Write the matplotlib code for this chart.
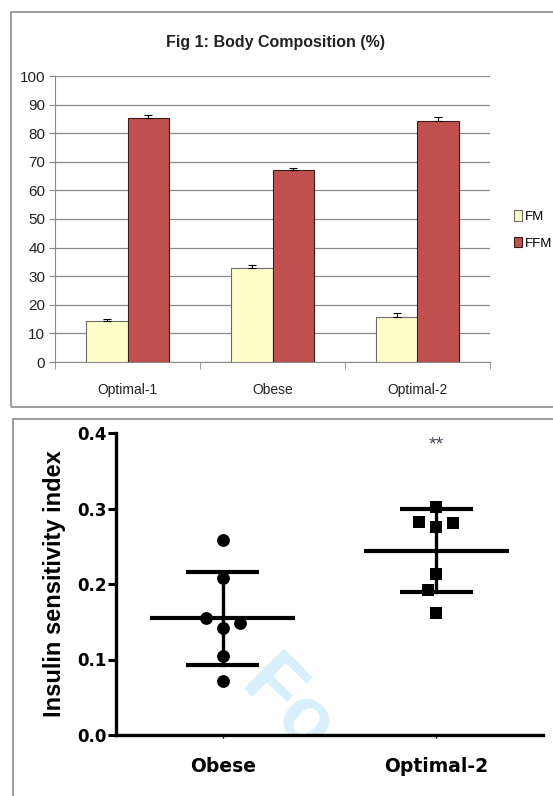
import matplotlib
matplotlib.use("Agg")
import matplotlib.pyplot as plt
import numpy as np
from matplotlib.patches import Rectangle

# ---- Fig 1: body composition ----
groups = ["Optimal-1", "Obese", "Optimal-2"]
fm = [14.4, 32.9, 15.8]
ffm = [85.4, 67.1, 84.3]
fm_err = [0.6, 0.9, 1.2]
ffm_err = [0.9, 0.6, 1.2]

# ---- insulin sensitivity ----
isi_groups = ["Obese", "Optimal-2"]
obese_isi = [0.258, 0.2075, 0.142, 0.1545, 0.148, 0.1046, 0.072]
opt2_isi = [0.302, 0.275, 0.2826, 0.281, 0.213, 0.192, 0.162]
isi_mean = [0.1545, 0.244]
isi_sd = [0.062, 0.055]
sig_label = "**"

sans = ["Liberation Sans", "DejaVu Sans"]

fig = plt.figure(figsize=(5.53, 7.96), dpi=100)

# panel frames
fig.patches.append(Rectangle((11/553, 1 - 407/796), 1.0, 395/796, transform=fig.transFigure,
                             fill=False, edgecolor="#8c8c8c", linewidth=1.2))
fig.patches.append(Rectangle((13/553, -0.02), 1.0, 1 - 419/796 + 0.02, transform=fig.transFigure,
                             fill=False, edgecolor="#8c8c8c", linewidth=1.2))

# ================= top chart =================
ax = fig.add_axes([55/553, 1 - 362/796, 435/553, 286/796])
x = np.arange(len(groups))
w = 0.286
ax.bar(x - w/2, fm, w, color="#ffffcc", edgecolor="#6b6b6b", linewidth=0.8, label="FM", zorder=3,
       yerr=[np.zeros(3), fm_err], error_kw=dict(ecolor="black", elinewidth=0.8, capsize=3, capthick=0.8))
ax.bar(x + w/2, ffm, w, color="#c0504d", edgecolor="#3a1a1a", linewidth=0.8, label="FFM", zorder=3,
       yerr=[np.zeros(3), ffm_err], error_kw=dict(ecolor="black", elinewidth=0.8, capsize=3, capthick=0.8))
ax.set_xlim(-0.5, 2.5)
ax.set_ylim(0, 100)
ax.set_yticks(np.arange(0, 101, 10))
ax.yaxis.grid(True, color="#8a8a8a", linewidth=0.9, zorder=0)
ax.set_axisbelow(True)
for s in ["top", "right"]:
    ax.spines[s].set_visible(False)
ax.spines["left"].set_color("#8a8a8a")
ax.spines["bottom"].set_color("#8a8a8a")
ax.set_xticks(x)
ax.set_xticklabels(groups, family=sans, fontsize=10, color="#222222")
ax.tick_params(axis="x", length=0, pad=15)
ax.set_xticks(np.arange(-0.5, 2.6, 1.0), minor=True)
ax.tick_params(axis="x", which="minor", length=5, color="#8a8a8a")
ax.tick_params(axis="y", length=4, color="#8a8a8a", labelsize=11, pad=3)
for t in ax.get_yticklabels():
    t.set_family(sans)
    t.set_color("#222222")
fig.text(275/553, 1 - 43/796, "Fig 1: Body Composition (%)", ha="center", va="center",
         family=sans, fontsize=11.5, fontweight="bold", color="#222222")
leg = ax.legend(loc="center left", bbox_to_anchor=((507 - 55) / 435, 0.463), frameon=False,
                borderpad=0, prop={"family": sans, "size": 9.5}, handlelength=0.65,
                handleheight=0.9, handletextpad=0.2, labelspacing=1.05)

# ================= bottom chart =================
bx = fig.add_axes([116/553, 1 - 735/796, 427/553, 302/796])
ypx, xpx, diam = 755.0, 213.0, 16.0


def swarm(vals, step=8.5):
    placed = []
    for v in vals:
        for k in [0, -1, 1, -2, 2, -3, 3]:
            off = k * step
            if all(np.hypot(off - po, (v - pv) * ypx) >= diam for po, pv in placed):
                placed.append((off, v))
                break
    return np.array([p[0] for p in placed]) / xpx


# faint watermark fragment, clipped to the plot area
bx.text(1.07, 0.062, "Fo", fontsize=58, fontweight="bold", color="#d8f0fb",
        rotation=-45, rotation_mode="anchor", ha="left", va="baseline",
        family=sans, zorder=0, clip_on=True)

for i, (vals, mk) in enumerate([(obese_isi, "o"), (opt2_isi, "s")]):
    cx = i + 1
    offs = swarm(vals)
    bx.scatter(cx + offs, vals, marker=mk, s=85 if mk == "o" else 72, color="black",
               linewidths=0, zorder=3)
    m, sd = isi_mean[i], isi_sd[i]
    bx.plot([cx - 0.34, cx + 0.34], [m, m], color="black", lw=3, solid_capstyle="butt", zorder=4)
    bx.plot([cx - 0.17, cx + 0.17], [m + sd, m + sd], color="black", lw=3, solid_capstyle="butt", zorder=4)
    bx.plot([cx - 0.17, cx + 0.17], [m - sd, m - sd], color="black", lw=3, solid_capstyle="butt", zorder=4)
    bx.plot([cx, cx], [m - sd, m + sd], color="black", lw=2.4, zorder=4)

bx.text(2, 0.384, sig_label, ha="center", va="center", fontsize=14, color="#404858",
        family=sans)
bx.set_xlim(0.5, 2.5)
bx.set_ylim(0, 0.4)
bx.set_yticks([0.0, 0.1, 0.2, 0.3, 0.4])
bx.set_yticklabels(["0.0", "0.1", "0.2", "0.3", "0.4"])
for s in ["top", "right"]:
    bx.spines[s].set_visible(False)
bx.spines["left"].set_linewidth(2.4)
bx.spines["bottom"].set_linewidth(2.4)
bx.tick_params(axis="y", length=6, width=2.2, labelsize=12, pad=1)
for t in bx.get_yticklabels():
    t.set_family("DejaVu Sans")
    t.set_fontweight("bold")
bx.set_xticks([1, 2])
bx.set_xticklabels(isi_groups, fontsize=13.5, fontweight="bold", family=["DejaVu Sans"])
bx.tick_params(axis="x", length=2, width=1, pad=14)
bx.set_ylabel("Insulin sensitivity index", family=sans, fontsize=17, fontweight="bold",
              labelpad=8)
bx.patch.set_alpha(0)

fig.savefig("out.png", dpi=100)
